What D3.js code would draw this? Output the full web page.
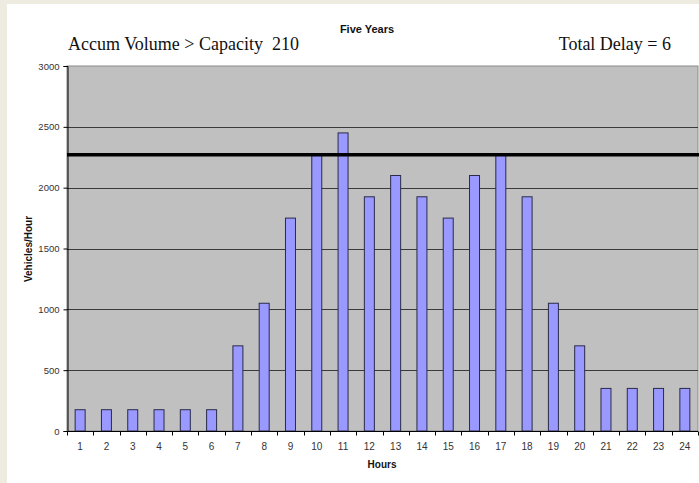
<!DOCTYPE html>
<html>
<head>
<meta charset="utf-8">
<script src="https://cdn.jsdelivr.net/npm/d3@7"></script>
<style>
  html, body { margin: 0; padding: 0; background: #eeece1; }
  svg { display: block; }
  text { white-space: pre; }
</style>
</head>
<body>
<svg id="chart" width="699" height="483"></svg>
<script>
// Hourly traffic volume over a 24-hour day
const hours = d3.range(1, 25).map(String);
const volumes = [175, 175, 175, 175, 175, 175, 700, 1050, 1750, 2275, 2450, 1925,
                 2100, 1925, 1750, 2100, 2275, 1925, 1050, 700, 350, 350, 350, 350];
const yTicks = [0, 500, 1000, 1500, 2000, 2500, 3000];
const capacity = 2270;
const chartTitle = "Five Years";
const leftNote = "Accum Volume > Capacity  210";
const rightNote = "Total Delay = 6";
const xTitle = "Hours";
const yTitle = "Vehicles/Hour";

const svg = d3.select("#chart");
const W = 699, H = 483;
const sans = "Arial, 'Liberation Sans', sans-serif";
const serif = "'Times New Roman', 'Liberation Serif', serif";

// white sheet on beige page
svg.append("rect").attr("x", 7).attr("y", 4).attr("width", W - 7).attr("height", H - 4).attr("fill", "#ffffff");

const plot = { left: 67, right: 698, top: 66, bottom: 431 };

const x = d3.scaleBand().domain(hours).range([plot.left, plot.right]).paddingInner(0.62).paddingOuter(0.31);
const xEdges = d3.scaleLinear().domain([0, hours.length]).range([plot.left, plot.right]);
const y = d3.scaleLinear().domain([0, 3000]).range([plot.bottom, plot.top]);

// plot background
svg.append("rect")
  .attr("x", plot.left).attr("y", plot.top)
  .attr("width", plot.right - plot.left).attr("height", plot.bottom - plot.top)
  .attr("fill", "#c0c0c0").attr("stroke", "#8a8a8a").attr("stroke-width", 1);

// horizontal gridlines
svg.append("g").selectAll("line").data(yTicks.filter(d => d > 0 && d < 3000)).join("line")
  .attr("x1", plot.left).attr("x2", plot.right)
  .attr("y1", d => Math.round(y(d)) + 0.5).attr("y2", d => Math.round(y(d)) + 0.5)
  .attr("stroke", "#3a3a3a").attr("stroke-width", 1);

// bars
svg.append("g").selectAll("rect").data(volumes).join("rect")
  .attr("x", (d, i) => x(hours[i]))
  .attr("y", d => y(d))
  .attr("width", x.bandwidth())
  .attr("height", d => y(0) - y(d))
  .attr("fill", "#9999ff")
  .attr("stroke", "#2a2a4a")
  .attr("stroke-width", 1);

// capacity line
svg.append("line")
  .attr("x1", plot.left).attr("x2", W)
  .attr("y1", y(capacity)).attr("y2", y(capacity))
  .attr("stroke", "#000").attr("stroke-width", 3.4);

// y axis
const yAxis = svg.append("g").attr("transform", `translate(${plot.left + 0.5},0)`)
  .call(d3.axisLeft(y).tickValues(yTicks).tickSize(4).tickPadding(4).tickFormat(d3.format("d")));
yAxis.select(".domain").attr("stroke", "#000");
yAxis.selectAll(".tick line").attr("stroke", "#000");
yAxis.selectAll("text").attr("font-family", sans).attr("font-size", 9.5).attr("fill", "#333");

// x axis: tick marks at category boundaries, labels at centres
const xAxisG = svg.append("g").attr("transform", `translate(0,${plot.bottom + 0.5})`);
xAxisG.append("line").attr("x1", plot.left).attr("x2", plot.right).attr("stroke", "#000");
xAxisG.selectAll("line.tk").data(d3.range(0, hours.length + 1)).join("line").attr("class", "tk")
  .attr("x1", d => Math.round(xEdges(d)) + 0.5).attr("x2", d => Math.round(xEdges(d)) + 0.5)
  .attr("y1", 0).attr("y2", 4).attr("stroke", "#000");
xAxisG.selectAll("text").data(hours).join("text")
  .attr("x", d => x(d) + x.bandwidth() / 2).attr("y", 18)
  .attr("text-anchor", "middle")
  .attr("font-family", sans).attr("font-size", 10).attr("fill", "#333")
  .text(d => d);

// axis titles
svg.append("text").attr("x", 382).attr("y", 468).attr("text-anchor", "middle")
  .attr("font-family", sans).attr("font-size", 10).attr("font-weight", "bold")
  .attr("fill", "#111").text(xTitle);
svg.append("text").attr("transform", "translate(32,249) rotate(-90)").attr("text-anchor", "middle")
  .attr("font-family", sans).attr("font-size", 10).attr("font-weight", "bold")
  .attr("fill", "#111").text(yTitle);

// headings
svg.append("text").attr("x", 367).attr("y", 33).attr("text-anchor", "middle")
  .attr("font-family", sans).attr("font-size", 11).attr("font-weight", "bold")
  .attr("fill", "#111").text(chartTitle);
svg.append("text").attr("x", 68).attr("y", 50)
  .attr("font-family", serif).attr("font-size", 18)
  .attr("fill", "#111").text(leftNote);
svg.append("text").attr("x", 671).attr("y", 50).attr("text-anchor", "end")
  .attr("font-family", serif).attr("font-size", 18)
  .attr("fill", "#111").text(rightNote);
</script>
</body>
</html>
